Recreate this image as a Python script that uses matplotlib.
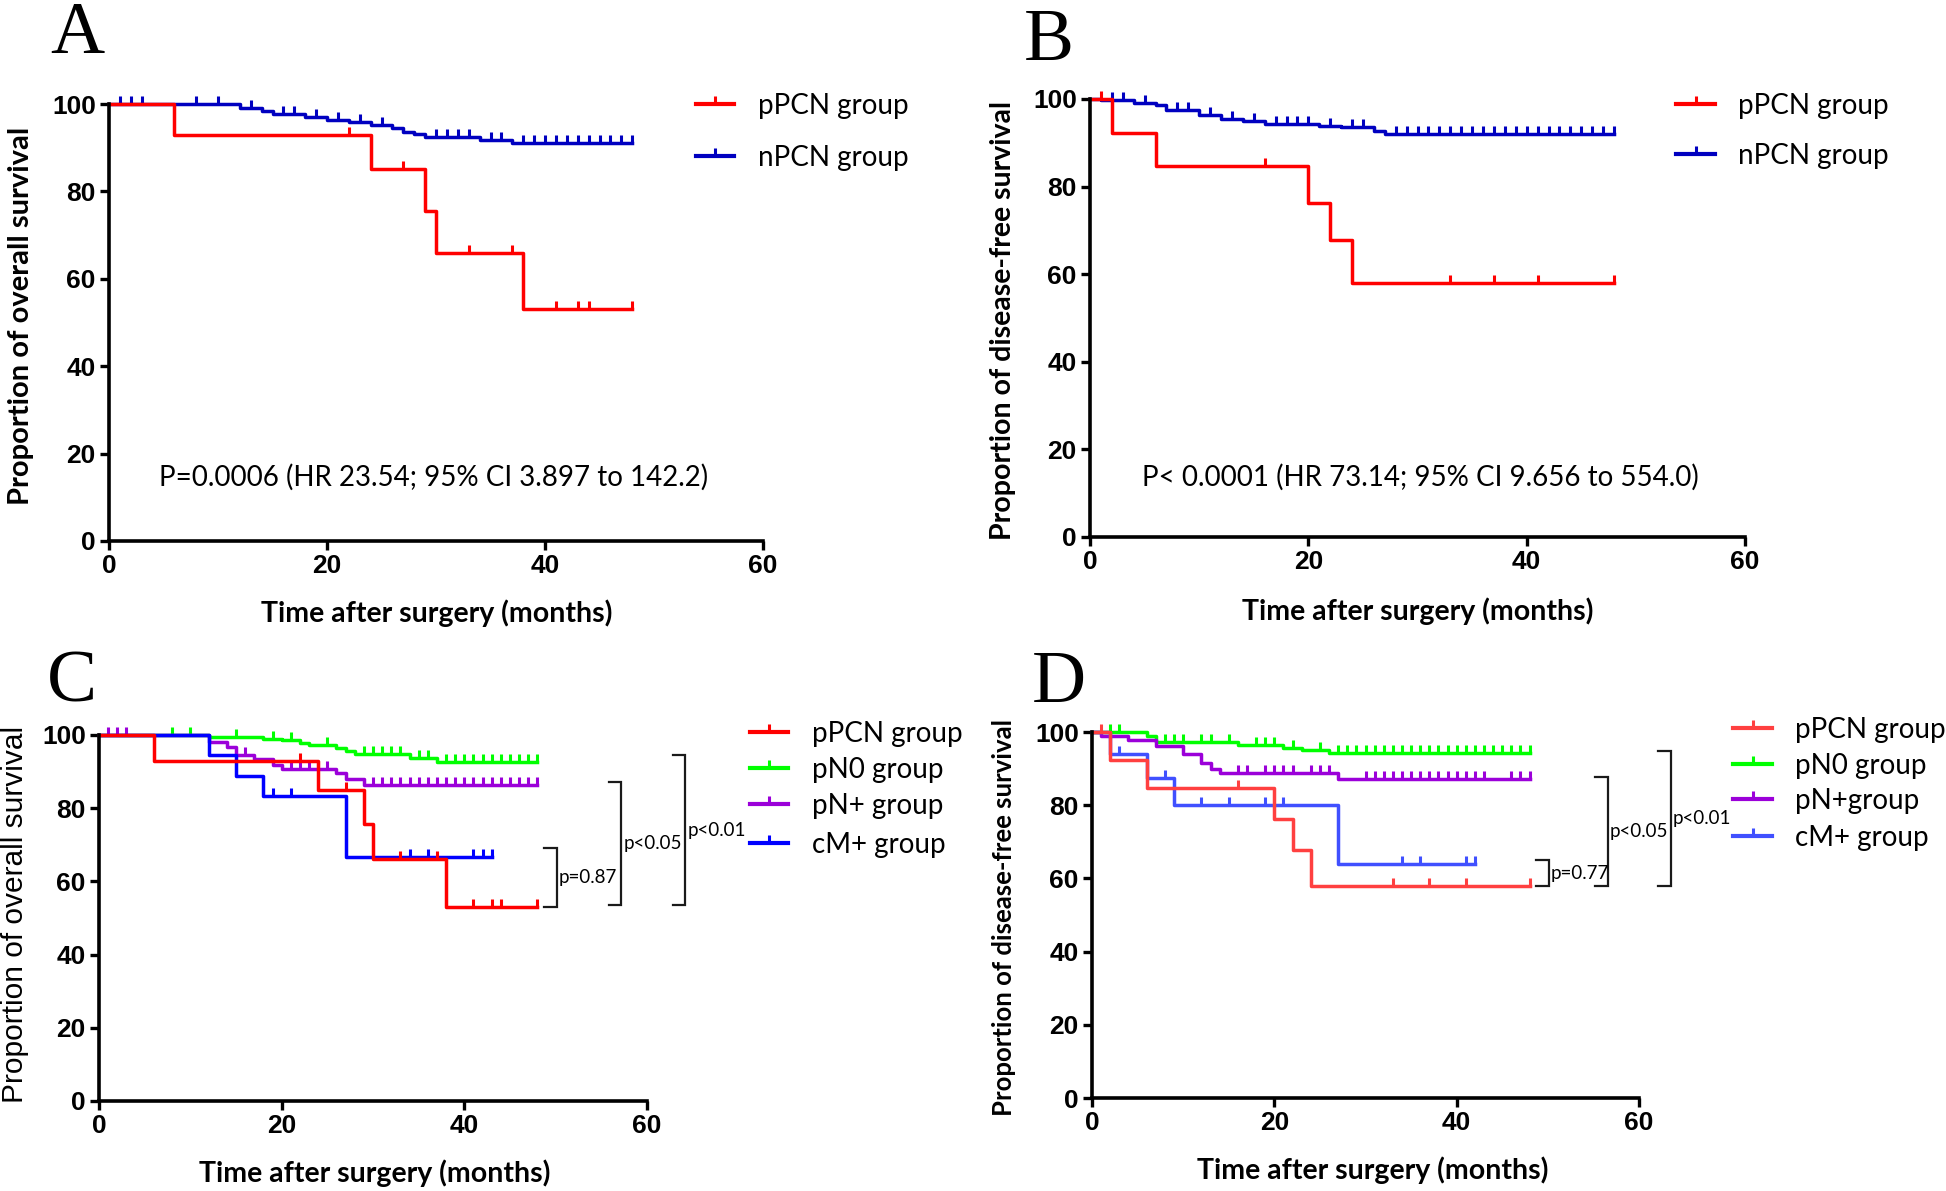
import numpy as np
import matplotlib
matplotlib.use("Agg")
import matplotlib.pyplot as plt
from matplotlib.path import Path
from matplotlib.lines import Line2D

# ---------------- data ----------------
# overall survival, two groups
pPCN_os_t = [0, 6, 24, 29, 30, 38]
pPCN_os_s = [100, 92.9, 85.1, 75.6, 66.0, 53.0]
pPCN_os_end = 48
pPCN_os_cens = [22, 27, 33, 37, 41, 43, 44, 48]

nPCN_os_t = [0, 12, 14, 15, 18, 20, 22, 24, 26, 27, 28, 29, 34, 37]
nPCN_os_s = [100, 99.0, 98.4, 97.8, 97.1, 96.4, 95.8, 95.1, 94.5, 93.7, 93.1, 92.4, 91.7, 91.0]
nPCN_os_end = 48
nPCN_os_cens = [1, 2, 3, 8, 10, 13, 16, 17, 19, 21, 23, 25, 30, 31, 32, 33, 35, 36,
                38, 39, 40, 41, 42, 43, 44, 45, 46, 47, 48]

# disease-free survival, two groups
pPCN_dfs_t = [0, 2, 6, 20, 22, 24]
pPCN_dfs_s = [100, 92.3, 84.6, 76.2, 67.7, 58.0]
pPCN_dfs_end = 48
pPCN_dfs_cens = [1, 16, 33, 37, 41, 48]

nPCN_dfs_t = [0, 1, 4, 6, 7, 10, 12, 14, 16, 21, 23, 26, 27]
nPCN_dfs_s = [100, 99.7, 99.2, 98.7, 97.4, 96.3, 95.5, 94.9, 94.4, 93.9, 93.5, 92.7, 92.1]
nPCN_dfs_end = 48
nPCN_dfs_cens = [2, 3, 5, 8, 9, 11, 13, 15, 17, 18, 19, 20, 22, 24, 25, 28, 29, 30, 31,
                 32, 33, 34, 35, 36, 37, 38, 39, 40, 41, 42, 43, 44, 45, 46, 47, 48]

# overall survival, four groups
pN0_os_t = [0, 12, 18, 20, 22, 23, 26, 27, 28, 34, 37]
pN0_os_s = [100, 99.5, 99.0, 98.5, 97.9, 97.3, 96.4, 95.5, 94.8, 93.6, 92.5]
pN0_os_end = 48
pN0_os_cens = [8, 10, 15, 19, 21, 25, 29, 30, 31, 32, 33, 35, 36, 38, 39, 40, 41, 42,
               43, 44, 45, 46, 47, 48]

pNp_os_t = [0, 12, 14, 15, 17, 19, 20, 26, 27, 29]
pNp_os_s = [100, 98.2, 96.8, 94.5, 93.4, 91.8, 90.7, 89.5, 87.9, 86.4]
pNp_os_end = 48
pNp_os_cens = [1, 2, 3, 16, 21, 22, 23, 24, 25, 30, 31, 32, 33, 34, 35, 36, 37, 38,
               39, 40, 41, 42, 43, 44, 45, 46, 47, 48]

cM_os_t = [0, 12, 15, 18, 27]
cM_os_s = [100, 94.4, 88.9, 83.3, 66.7]
cM_os_end = 43
cM_os_cens = [19, 21, 34, 36, 41, 42, 43]

# disease-free survival, four groups
pN0_dfs_t = [0, 6, 7, 16, 21, 23, 26]
pN0_dfs_s = [100, 99.0, 97.4, 96.5, 95.7, 95.1, 94.2]
pN0_dfs_end = 48
pN0_dfs_cens = [2, 3, 8, 9, 10, 12, 13, 15, 18, 19, 20, 22, 25, 27, 28, 29, 30, 31,
                32, 33, 34, 35, 36, 37, 38, 39, 40, 41, 42, 43, 44, 45, 46, 47, 48]

pNp_dfs_t = [0, 1, 4, 7, 10, 12, 13, 14, 27]
pNp_dfs_s = [100, 98.9, 97.7, 96.2, 93.9, 91.4, 90.0, 88.9, 87.1]
pNp_dfs_end = 48
pNp_dfs_cens = [16, 17, 19, 20, 21, 22, 24, 25, 26, 30, 31, 32, 33, 34, 35, 36, 37,
                38, 39, 40, 41, 42, 43, 46, 47, 48]

cM_dfs_t = [0, 2, 6, 9, 27]
cM_dfs_s = [100, 94.1, 87.3, 80.0, 64.0]
cM_dfs_end = 42
cM_dfs_cens = [3, 8, 12, 15, 19, 21, 34, 36, 41, 42]

# annotations
stat_A = "P=0.0006 (HR 23.54; 95% CI 3.897 to 142.2)"
stat_B = "P< 0.0001 (HR 73.14; 95% CI 9.656 to 554.0)"
brackets_C = [  # (x, y_low, y_high, label)
    (50.1, 53.0, 69.0, "p=0.87"),
    (57.2, 53.5, 87.2, "p<0.05"),
    (64.2, 53.5, 94.5, "p<0.01"),
]
brackets_D = [
    (50.1, 57.9, 64.9, "p=0.77"),
    (56.6, 57.9, 87.8, "p<0.05"),
    (63.5, 57.9, 94.8, "p<0.01"),
]

xticks = [0, 20, 40, 60]
yticks = [0, 20, 40, 60, 80, 100]

# ---------------- style ----------------
W, H = 1946, 1191
LW = 2.5
TICK = Path([[0, 0], [0, 1]])
CAL = "Lato"
ARIAL = "Liberation Sans"

RED = "#ff0000"
BLUE_AB = "#0000c0"
BLUE = "#0000ff"
GREEN = "#00ff00"
PURPLE = "#9b00d9"
RED_D = "#ff4040"
BLUE_D = "#4050ff"

fig = plt.figure(figsize=(W / 100, H / 100), dpi=100)


def fx(x):
    return x / W


def fy(y):
    return 1 - y / H


def make_axes(l, r, top, bottom):
    ax = fig.add_axes([l / W, 1 - bottom / H, (r - l) / W, (bottom - top) / H])
    ax.set_xlim(0, 60)
    ax.set_ylim(0, 100)
    for s in ["top", "right"]:
        ax.spines[s].set_visible(False)
    for s in ["left", "bottom"]:
        ax.spines[s].set_linewidth(2.6)
    ax.set_xticks(xticks)
    ax.set_yticks(yticks)
    ax.tick_params(length=6.5, width=2.4, direction="out", pad=3)
    for lab in ax.get_xticklabels() + ax.get_yticklabels():
        lab.set_fontfamily(ARIAL)
        lab.set_fontweight("bold")
        lab.set_fontsize(19)
    return ax


def km(ax, t, s, end, cens, color):
    x = list(t) + [end]
    y = list(s) + [s[-1]]
    ax.step(x, y, where="post", color=color, lw=LW, clip_on=False)
    idx = np.searchsorted(t, cens, side="right") - 1
    ax.plot(cens, np.array(s)[idx], ls="none", marker=TICK, ms=12, mew=2.2,
            color=color, clip_on=False)


def legend(x0, x1, xt, rows, fs):
    for y, label, color in rows:
        xm = (x0 + x1) / 2
        fig.add_artist(Line2D([fx(x0), fx(xm), fx(x1)], [fy(y)] * 3, color=color, lw=3.0,
                              marker=TICK, ms=12, mew=2.2, markevery=[1]))
        fig.text(fx(xt), fy(y + 2), label, fontsize=fs, family=CAL, va="center", ha="left")


def brackets(ax, items):
    for x, lo, hi, label in items:
        ax.plot([x - 1.4, x, x, x - 1.4], [lo, lo, hi, hi], color="#1a1a1a", lw=1.6,
                clip_on=False, solid_joinstyle="miter")
        ax.text(x + 0.2, (lo + hi) / 2, label, fontsize=13.5, family=CAL, ha="left",
                va="center")


# ---------------- panel A ----------------
axA = make_axes(109, 763, 104, 541)
km(axA, nPCN_os_t, nPCN_os_s, nPCN_os_end, nPCN_os_cens, BLUE_AB)
km(axA, pPCN_os_t, pPCN_os_s, pPCN_os_end, pPCN_os_cens, RED)
axA.text(29.8, 14.5, stat_A, fontsize=20, family=CAL, ha="center", va="center")
legend(696, 734, 758, [(104, "pPCN group", RED), (156, "nPCN group", BLUE_AB)], 20)
fig.text(fx(21), fy(316), "Proportion of overall survival", rotation=90, fontsize=21,
         family=CAL, weight="bold", ha="center", va="center")
fig.text(fx(437), fy(613), "Time after surgery (months)", fontsize=20.5, family=CAL,
         weight="bold", ha="center", va="center")

# ---------------- panel B ----------------
axB = make_axes(1090, 1745, 99, 537)
km(axB, nPCN_dfs_t, nPCN_dfs_s, nPCN_dfs_end, nPCN_dfs_cens, BLUE_AB)
km(axB, pPCN_dfs_t, pPCN_dfs_s, pPCN_dfs_end, pPCN_dfs_cens, RED)
axB.text(30.3, 13.7, stat_B, fontsize=20, family=CAL, ha="center", va="center")
legend(1676, 1715, 1738, [(104, "pPCN group", RED), (154, "nPCN group", BLUE_AB)], 20)
fig.text(fx(1003), fy(320), "Proportion of disease-free survival", rotation=90,
         fontsize=20.5, family=CAL, weight="bold", ha="center", va="center")
fig.text(fx(1418), fy(611), "Time after surgery (months)", fontsize=20.5, family=CAL,
         weight="bold", ha="center", va="center")

# ---------------- panel C ----------------
axC = make_axes(99, 647, 735, 1101)
km(axC, pN0_os_t, pN0_os_s, pN0_os_end, pN0_os_cens, GREEN)
km(axC, pNp_os_t, pNp_os_s, pNp_os_end, pNp_os_cens, PURPLE)
km(axC, cM_os_t, cM_os_s, cM_os_end, cM_os_cens, BLUE)
km(axC, pPCN_os_t, pPCN_os_s, pPCN_os_end, pPCN_os_cens, RED)
brackets(axC, brackets_C)
legend(750, 788, 812, [(732, "pPCN group", RED), (768, "pN0 group", GREEN),
                       (804, "pN+ group", PURPLE), (843, "cM+ group", BLUE)], 20)
fig.text(fx(15), fy(914), "Proportion of overall survival", rotation=90, fontsize=21.5,
         family=ARIAL, ha="center", va="center")
fig.text(fx(375), fy(1173), "Time after surgery (months)", fontsize=20.5, family=CAL,
         weight="bold", ha="center", va="center")

# ---------------- panel D ----------------
axD = make_axes(1092, 1639, 732, 1098)
km(axD, pN0_dfs_t, pN0_dfs_s, pN0_dfs_end, pN0_dfs_cens, GREEN)
km(axD, pNp_dfs_t, pNp_dfs_s, pNp_dfs_end, pNp_dfs_cens, PURPLE)
km(axD, cM_dfs_t, cM_dfs_s, cM_dfs_end, cM_dfs_cens, BLUE_D)
km(axD, pPCN_dfs_t, pPCN_dfs_s, pPCN_dfs_end, pPCN_dfs_cens, RED_D)
brackets(axD, brackets_D)
legend(1733, 1772, 1795, [(728, "pPCN group", RED_D), (764, "pN0 group", GREEN),
                          (799, "pN+group", PURPLE), (836, "cM+ group", BLUE_D)], 20)
fig.text(fx(1004), fy(917), "Proportion of disease-free survival", rotation=90,
         fontsize=18.5, family=CAL, weight="bold", ha="center", va="center")
fig.text(fx(1373), fy(1170), "Time after surgery (months)", fontsize=20.5, family=CAL,
         weight="bold", ha="center", va="center")

# ---------------- panel letters ----------------
for (x, y, letter) in [(77, 53, "A"), (1049, 60, "B"), (72, 702, "C"), (1059, 702, "D")]:
    fig.text(fx(x), fy(y), letter, fontsize=54, family="Liberation Serif",
             ha="center", va="baseline")

fig.savefig("out.png", dpi=100)
